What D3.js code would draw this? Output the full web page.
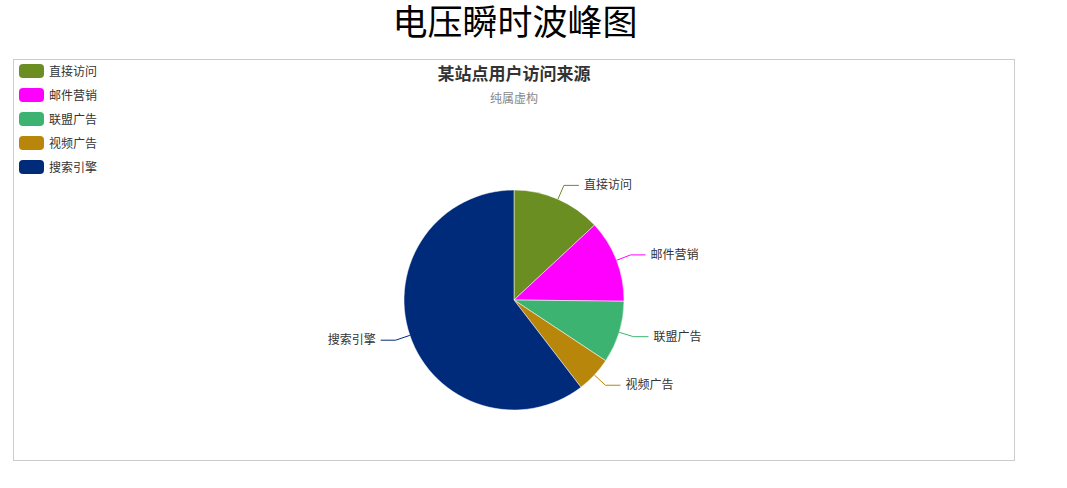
<!DOCTYPE html>
<html>
<head>
<meta charset="utf-8">
<script src="https://cdn.jsdelivr.net/npm/d3@7"></script>
<style>
  body { margin: 0; background: #fff; font-family: "Microsoft YaHei", "Noto Sans CJK SC", sans-serif; }
</style>
</head>
<body>
<div class="container"></div>
<script>
var categories = ['直接访问', '邮件营销', '联盟广告', '视频广告', '搜索引擎'];
var values = [335, 310, 234, 135, 1548];
var colors = ['#6b8e23', '#ff00ff', '#3cb371', '#b8860b', '#002a7a'];

var WIDTH = 1067, HEIGHT = 488;
var BOX = {x: 13.5, y: 59.5, w: 1001, h: 401};
var CX = 514, CY = 300, R = 110;

var svg = d3.select('.container').append('svg')
    .attr('width', WIDTH)
    .attr('height', HEIGHT);

svg.append('text')
    .attr('x', 515).attr('y', 35)
    .attr('text-anchor', 'middle')
    .attr('font-size', 35)
    .attr('fill', '#000')
    .text('电压瞬时波峰图');

svg.append('rect')
    .attr('x', BOX.x).attr('y', BOX.y)
    .attr('width', BOX.w).attr('height', BOX.h)
    .attr('fill', 'none')
    .attr('stroke', '#ccc');

svg.append('text')
    .attr('x', CX).attr('y', 80)
    .attr('text-anchor', 'middle')
    .attr('font-size', 17)
    .attr('font-weight', 'bold')
    .attr('fill', '#333')
    .text('某站点用户访问来源');

svg.append('text')
    .attr('x', CX).attr('y', 103)
    .attr('text-anchor', 'middle')
    .attr('font-size', 12)
    .attr('fill', '#888')
    .text('纯属虚构');

// legend
var color = d3.scaleOrdinal().domain(categories).range(colors);
var legendY = d3.scalePoint().domain(categories).range([71, 167]);

var legend = svg.append('g').selectAll('g').data(categories)
    .enter().append('g')
    .attr('transform', function(d) { return 'translate(19,' + legendY(d) + ')'; });

legend.append('rect')
    .attr('x', 0).attr('y', -7)
    .attr('width', 25).attr('height', 14)
    .attr('rx', 4)
    .attr('fill', function(d) { return color(d); });

legend.append('text')
    .attr('x', 30).attr('y', 4.5)
    .attr('font-size', 12)
    .attr('fill', '#333')
    .text(function(d) { return d; });

// pie
var data = categories.map(function(c, i) { return {name: c, value: values[i]}; });
var pie = d3.pie().sort(null).value(function(d) { return d.value; });
var arcs = pie(data);
var arc = d3.arc().innerRadius(0).outerRadius(R);

var chartGroup = svg.append('g').attr('transform', 'translate(' + CX + ',' + CY + ')');

chartGroup.selectAll('path.slice').data(arcs)
    .enter().append('path')
    .attr('class', 'slice')
    .attr('d', arc)
    .attr('fill', function(d) { return color(d.data.name); })
    .attr('stroke', '#fff')
    .attr('stroke-width', 0.5);

// label lines
var LEN1 = 15, LEN2 = 15;
var labels = arcs.map(function(d) {
    var mid = (d.startAngle + d.endAngle) / 2;
    var sx = Math.sin(mid), sy = -Math.cos(mid);
    var p0 = [sx * R, sy * R];
    var p1 = [sx * (R + LEN1), sy * (R + LEN1)];
    var dir = sx >= 0 ? 1 : -1;
    var p2 = [p1[0] + dir * LEN2, p1[1]];
    return {d: d, pts: [p0, p1, p2], dir: dir};
});

chartGroup.selectAll('polyline').data(labels)
    .enter().append('polyline')
    .attr('points', function(l) { return l.pts.map(function(p) { return p.join(','); }).join(' '); })
    .attr('fill', 'none')
    .attr('stroke', function(l) { return color(l.d.data.name); })
    .attr('stroke-width', 1);

chartGroup.selectAll('text.lbl').data(labels)
    .enter().append('text')
    .attr('class', 'lbl')
    .attr('x', function(l) { return l.pts[2][0] + l.dir * 5; })
    .attr('y', function(l) { return l.pts[2][1] + 4; })
    .attr('text-anchor', function(l) { return l.dir > 0 ? 'start' : 'end'; })
    .attr('font-size', 12)
    .attr('fill', '#333')
    .text(function(l) { return l.d.data.name; });
</script>
</body>
</html>
